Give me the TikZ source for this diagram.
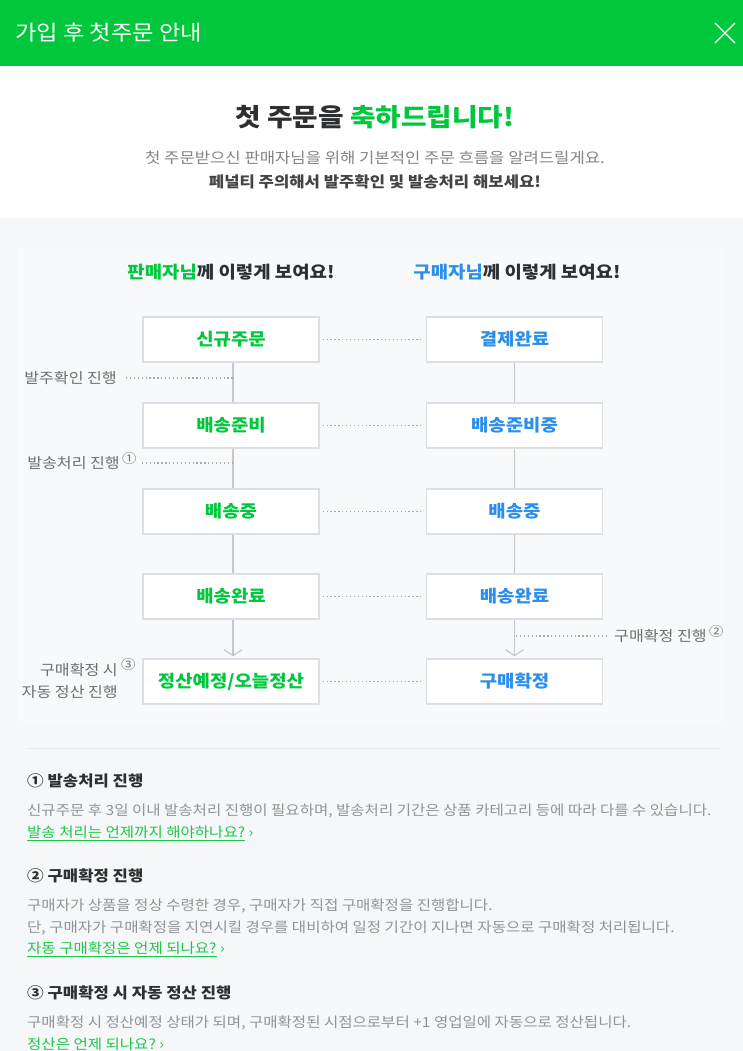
\documentclass[tikz,border=0pt]{standalone}
\usepackage{fontspec}
\setmainfont{Noto Sans CJK KR}[FakeStretch=1.11]
\usetikzlibrary{arrows.meta}
\definecolor{ngreen}{HTML}{00C73C}
\definecolor{lgreen}{HTML}{1BC84A}
\definecolor{nblue}{HTML}{2B8EEB}
\definecolor{dark}{HTML}{2E2F33}
\definecolor{midgray}{HTML}{6B6E75}
\definecolor{bodygray}{HTML}{909399}
\definecolor{boxline}{HTML}{DCDFE5}
\definecolor{conn}{HTML}{C4C7CD}
\definecolor{dotc}{HTML}{A6AAB2}
\definecolor{bgA}{HTML}{F6F7F9}
\definecolor{bgB}{HTML}{F8F9FB}
\definecolor{sepc}{HTML}{E6E8EC}
\tikzset{
  flowbox/.style={draw=boxline, fill=white, line width=1.2pt, minimum width=176pt, minimum height=45pt, inner sep=0pt, font=\fontsize{17}{20}\selectfont\bfseries},
  sellerbox/.style={flowbox, text=ngreen},
  buyerbox/.style={flowbox, text=nblue},
  solidconn/.style={draw=conn, line width=1.2pt},
  arrowconn/.style={solidconn, -{Straight Barb[length=6pt,width=18pt,line width=1.2pt]}},
  dotline/.style={draw=dotc, line width=1.3pt, dash pattern=on 1.3pt off 2.6pt},
  annot/.style={text=midgray, font=\fontsize{14.5}{22}\selectfont, inner sep=0pt},
  circnum/.style={text=midgray, font=\fontsize{13}{13}\selectfont, inner sep=0pt},
  sechead/.style={anchor=west, inner sep=0pt, text=dark, font=\fontsize{15}{18}\selectfont\bfseries},
  secbody/.style={anchor=west, inner sep=0pt, text=bodygray, font=\fontsize{14}{22}\selectfont, align=left},
  seclink/.style={anchor=west, inner sep=0pt, text=lgreen, font=\fontsize{14}{17}\selectfont},
}
\begin{document}
\begin{tikzpicture}[x=1pt,y=-1pt]
\useasboundingbox (0,0) rectangle (743,1051);
\fill[bgA] (0,218) rectangle (743,1051);
\fill[bgB] (18,248) rectangle (725,722);
\fill[ngreen] (0,0) rectangle (743,66);
\fill[white] (0,66) rectangle (743,218);
% header
\node[anchor=west, inner sep=0pt, text=white, font=\fontsize{21}{24}\selectfont] (title) at (15,33) {가입 후 첫주문 안내};
\draw[white, line width=1.2pt] (715,23) -- (735,43) (735,23) -- (715,43);
% intro
\node[text=dark, font=\fontsize{25}{30}\selectfont\bfseries] (headline) at (375,117) {첫 주문을 \textcolor{ngreen}{축하드립니다!}};
\node[text=midgray!85, font=\fontsize{15}{18}\selectfont] (sub1) at (375,158) {첫 주문받으신 판매자님을 위해 기본적인 주문 흐름을 알려드릴게요.};
\node[text=dark!90, font=\fontsize{15}{18}\selectfont\bfseries] (sub2) at (375,182) {페널티 주의해서 발주확인 및 발송처리 해보세요!};
% column headers
\node[text=dark, font=\fontsize{17}{20}\selectfont\bfseries] (hs) at (231,272) {\textcolor{ngreen}{판매자님}께 이렇게 보여요!};
\node[text=dark, font=\fontsize{17}{20}\selectfont\bfseries] (hb) at (517,272) {\textcolor{nblue}{구매자님}께 이렇게 보여요!};
% boxes
\node[sellerbox] (s1) at (231,339.5) {신규주문};
\node[sellerbox] (s2) at (231,425.5) {배송준비};
\node[sellerbox] (s3) at (231,511.5) {배송중};
\node[sellerbox] (s4) at (231,596.5) {배송완료};
\node[sellerbox] (s5) at (231,681.5) {정산예정/오늘정산};
\node[buyerbox] (b1) at (514.5,339.5) {결제완료};
\node[buyerbox] (b2) at (514.5,425.5) {배송준비중};
\node[buyerbox] (b3) at (514.5,511.5) {배송중};
\node[buyerbox] (b4) at (514.5,596.5) {배송완료};
\node[buyerbox] (b5) at (514.5,681.5) {구매확정};
% vertical connectors
\draw[solidconn] ([xshift=2pt]s1.south) -- ([xshift=2pt]s2.north);
\draw[solidconn] ([xshift=2pt]s2.south) -- ([xshift=2pt]s3.north);
\draw[solidconn] ([xshift=2pt]s3.south) -- ([xshift=2pt]s4.north);
\draw[arrowconn] ([xshift=2pt]s4.south) -- ([xshift=2pt,yshift=2pt]s5.north);
\draw[solidconn] (b1.south) -- (b2.north);
\draw[solidconn] (b2.south) -- (b3.north);
\draw[solidconn] (b3.south) -- (b4.north);
\draw[arrowconn] (b4.south) -- ([yshift=2pt]b5.north);
% horizontal dotted
\foreach \i in {1,...,5}{
  \draw[dotline] ([xshift=3pt]s\i.east) -- ([xshift=-3pt]b\i.west);
}
% annotations
\node[annot, anchor=east] (n1) at (117,378) {발주확인 진행};
\coordinate (a1) at (233,378);
\draw[dotline] ([xshift=9pt]n1.east) -- (a1);
\node[annot, anchor=east] (n2) at (120,463) {발송처리 진행};
\node[circnum, anchor=west] (c1) at ([xshift=2pt,yshift=4pt]n2.east) {①};
\coordinate (a2) at (233,463);
\draw[dotline] ([xshift=5pt]c1.east |- a2) -- (a2);
\node[annot, anchor=west] (n3) at (614,636) {구매확정 진행};
\node[circnum, anchor=west] (c2) at ([xshift=2pt,yshift=4pt]n3.east) {②};
\coordinate (a3) at (516,636);
\draw[dotline] (a3) -- ([xshift=-6pt]n3.west);
\node[annot, anchor=east, align=right] (n4) at (118,681) {구매확정 시\\자동 정산 진행};
\node[circnum, anchor=west] (c3) at (121,665) {③};
% separator
\draw[sepc, line width=1pt] (27,748) -- (721,748);
% section 1
\node[sechead] (h1) at (27,781) {① 발송처리 진행};
\node[secbody] (t1) at (27,811) {신규주문 후 3일 이내 발송처리 진행이 필요하며, 발송처리 기간은 상품 카테고리 등에 따라 다를 수 있습니다.};
\node[seclink] (l1) at (27,833) {\underline{발송 처리는 언제까지 해야하나요?} ›};
% section 2
\node[sechead] (h2) at (27,876) {② 구매확정 진행};
\node[secbody] (t2) at (27,917) {구매자가 상품을 정상 수령한 경우, 구매자가 직접 구매확정을 진행합니다.\\단, 구매자가 구매확정을 지연시킬 경우를 대비하여 일정 기간이 지나면 자동으로 구매확정 처리됩니다.};
\node[seclink] (l2) at (27,949) {\underline{자동 구매확정은 언제 되나요?} ›};
% section 3
\node[sechead] (h3) at (27,993) {③ 구매확정 시 자동 정산 진행};
\node[secbody] (t3) at (27,1023) {구매확정 시 정산예정 상태가 되며, 구매확정된 시점으로부터 +1 영업일에 자동으로 정산됩니다.};
\node[seclink] (l3) at (27,1045) {\underline{정산은 언제 되나요?} ›};
\end{tikzpicture}
\end{document}
